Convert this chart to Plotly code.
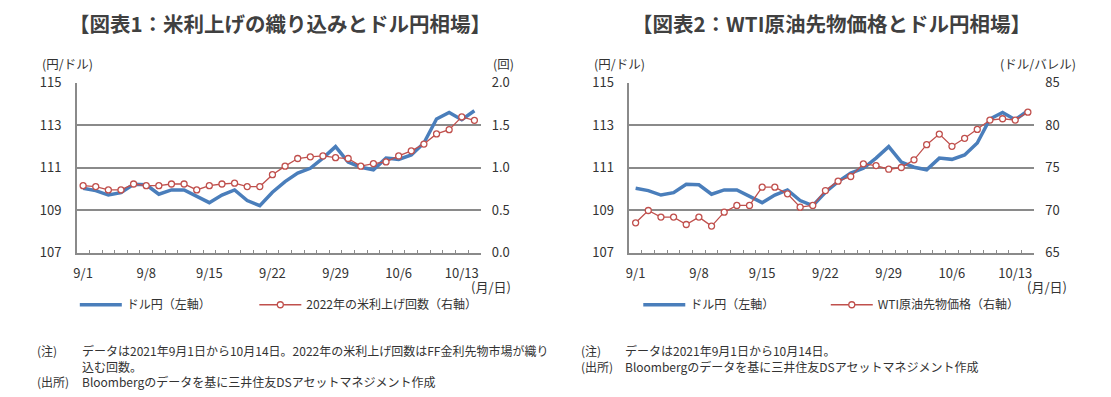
import plotly.graph_objects as go

W, H = 1111, 397

dates = ["9/1","9/2","9/3","9/6","9/7","9/8","9/9","9/10","9/13","9/14","9/15","9/16","9/17",
         "9/20","9/21","9/22","9/23","9/24","9/27","9/28","9/29","9/30","10/1","10/4","10/5",
         "10/6","10/7","10/8","10/11","10/12","10/13","10/14"]
tick_labels = ["9/1","9/8","9/15","9/22","9/29","10/6","10/13"]

usdjpy = [110.04,109.93,109.72,109.83,110.23,110.20,109.76,109.96,109.96,109.65,109.36,109.72,109.96,
          109.46,109.22,109.85,110.35,110.75,110.98,111.46,112.00,111.27,111.03,110.91,111.46,
          111.40,111.61,112.17,113.30,113.61,113.27,113.69]
hikes_2022 = [0.79,0.78,0.74,0.74,0.81,0.79,0.79,0.81,0.81,0.74,0.79,0.81,0.82,
              0.78,0.78,0.92,1.02,1.11,1.13,1.14,1.12,1.11,1.02,1.05,1.07,
              1.14,1.20,1.28,1.40,1.45,1.60,1.56]
wti = [68.53,69.98,69.20,69.20,68.33,69.20,68.14,69.78,70.57,70.57,72.73,72.73,71.94,
       70.37,70.57,72.33,73.43,73.98,75.47,75.27,74.84,75.04,75.94,77.73,78.98,
       77.54,78.48,79.53,80.63,80.78,80.63,81.56]

FONT = "Noto Sans CJK JP"
TXT = "#333333"
GRID = "#8a8a8a"
BLUE = "#4a7ebb"
RED = "#c0504d"

# the captured page appears vertically squeezed (~0.953) with ~10px offset; map target pixel rows
def px_x(x):
    return x / W

def px_y(y):
    yi = (y - 10) / 0.953
    return 1 - yi / H

ticktext = [d if d in tick_labels else "" for d in dates]

fig = go.Figure()

def line_trace(y, name, xa, ya, leg):
    return go.Scatter(x=dates, y=y, mode="lines", name=name,
                      line=dict(color=BLUE, width=3.5), xaxis=xa, yaxis=ya, legend=leg)

def marker_trace(y, name, xa, ya, leg):
    return go.Scatter(x=dates, y=y, mode="lines+markers", name=name,
                      line=dict(color=RED, width=1.3),
                      marker=dict(symbol="circle", size=6, color="white", line=dict(color=RED, width=1.3)),
                      xaxis=xa, yaxis=ya, legend=leg)

fig.add_trace(line_trace(usdjpy, "ドル円（左軸）", "x", "y", "legend"))
fig.add_trace(marker_trace(hikes_2022, "2022年の米利上げ回数（右軸）", "x", "y2", "legend2"))
fig.add_trace(line_trace(usdjpy, "ドル円（左軸）", "x2", "y3", "legend3"))
fig.add_trace(marker_trace(wti, "WTI原油先物価格（右軸）", "x2", "y4", "legend4"))

def xax(domain, anchor):
    return dict(domain=domain, anchor=anchor, type="category", categoryorder="array",
                categoryarray=dates, tickmode="array", tickvals=dates, ticktext=ticktext,
                tickson="boundaries", ticks="inside", ticklen=3, tickcolor=GRID, tickwidth=1.2,
                showline=True, linecolor=GRID, linewidth=1.5, showgrid=False, tickangle=0,
                ticklabelstandoff=8,
                tickfont=dict(family=FONT, size=13, color=TXT), range=[-0.5, 31.5], fixedrange=True)

def yleft(domain, anchor, rng, dtick, fmt):
    return dict(domain=domain, anchor=anchor, range=rng, dtick=dtick, tick0=rng[0], tickformat=fmt,
                showgrid=True, gridcolor=GRID, gridwidth=1.5, showline=True, linecolor=GRID,
                linewidth=1.5, ticks="", zeroline=False, ticklabelstandoff=11,
                tickfont=dict(family=FONT, size=13, color=TXT))

def yright(overlay, anchor, rng, dtick, fmt):
    return dict(overlaying=overlay, anchor=anchor, side="right", range=rng, dtick=dtick, tick0=rng[0],
                tickformat=fmt, showgrid=False, showline=False, ticks="", zeroline=False,
                ticklabelstandoff=10, tickfont=dict(family=FONT, size=13, color=TXT))

def leg(xp, yp):
    return dict(orientation="h", x=px_x(xp), y=px_y(yp), xanchor="left", yanchor="middle",
                font=dict(family=FONT, size=12, color=TXT), itemwidth=42,
                bgcolor="rgba(0,0,0,0)")

ydom = [px_y(253), px_y(83)]

fig.update_layout(
    width=W, height=H, margin=dict(l=0, r=0, t=0, b=0),
    paper_bgcolor="white", plot_bgcolor="white",
    font=dict(family=FONT, color=TXT),
    xaxis=xax([px_x(74), px_x(479)], "y"),
    yaxis=yleft(ydom, "x", [107, 115], 2, "d"),
    yaxis2=yright("y", "x", [0, 2], 0.5, ".1f"),
    xaxis2=xax([px_x(628), px_x(1034)], "y3"),
    yaxis3=yleft(ydom, "x2", [107, 115], 2, "d"),
    yaxis4=yright("y3", "x2", [65, 85], 5, "d"),
    legend=leg(72, 305),
    legend2=leg(252, 305),
    legend3=leg(637, 305),
    legend4=leg(825, 305),
    showlegend=True,
)

annots = [
    dict(text="<b>【図表1：米利上げの織り込みとドル円相場】</b>", x=278, y=23, size=20.5, xanchor="center"),
    dict(text="<b>【図表2：WTI原油先物価格とドル円相場】</b>", x=831, y=23, size=20.5, xanchor="center"),
    dict(text="(円/ドル)", x=37, y=64, size=12.5, xanchor="left"),
    dict(text="(回)", x=489, y=64, size=12.5, xanchor="left"),
    dict(text="(月/日)", x=467, y=287, size=13, xanchor="left"),
    dict(text="(円/ドル)", x=591, y=64, size=12.5, xanchor="left"),
    dict(text="(ドル/バレル)", x=998, y=64, size=12.5, xanchor="left"),
    dict(text="(月/日)", x=1025, y=287, size=13, xanchor="left"),
    dict(text="(注)<br><br>(出所)", x=32, y=366.5, size=12, xanchor="left"),
    dict(text="データは2021年9月1日から10月14日。2022年の米利上げ回数はFF金利先物市場が織り<br>込む回数。<br>"
              "Bloombergのデータを基に三井住友DSアセットマネジメント作成",
         x=77, y=366.5, size=12, xanchor="left"),
    dict(text="(注)<br>(出所)", x=578, y=358.5, size=12, xanchor="left"),
    dict(text="データは2021年9月1日から10月14日。<br>Bloombergのデータを基に三井住友DSアセットマネジメント作成",
         x=622, y=358.5, size=12, xanchor="left"),
]
for a in annots:
    fig.add_annotation(text=a["text"], x=px_x(a["x"]), y=px_y(a["y"]), xref="paper", yref="paper",
                       xanchor=a["xanchor"], yanchor="middle", align="left", showarrow=False,
                       font=dict(family=FONT, size=a["size"], color="#404040" if a["size"] > 15 else TXT))

post = ("document.documentElement.style.cssText='margin:0;padding:0;overflow:hidden;height:397px';"
        "document.body.style.cssText='margin:0;padding:0;overflow:hidden;height:397px';")
fig.write_html("out.html", config={"displayModeBar": False}, post_script=post)
